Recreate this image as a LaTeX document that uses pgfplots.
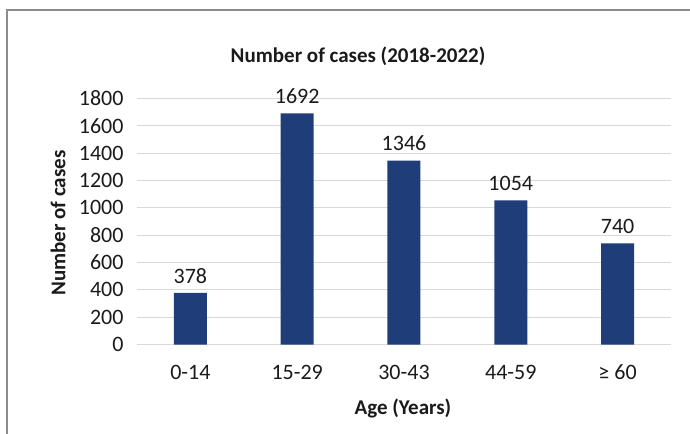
\documentclass[border=0pt]{standalone}
\usepackage{pgfplots}
\pgfplotsset{compat=1.18}
\usepackage{fontspec}
\setmainfont{Carlito}
\definecolor{barblue}{HTML}{1F3E79}
\definecolor{gridgray}{HTML}{D9D9D9}
\definecolor{framegray}{HTML}{8C8C8C}
\definecolor{txt}{HTML}{1A1A1A}
\begin{document}
\begin{tikzpicture}
\useasboundingbox (-137bp,-89.5bp) rectangle (553bp,344.5bp);
\draw[framegray, line width=1.3bp] (-130bp,-150bp) rectangle (620bp,334.5bp);
\begin{axis}[
  at={(0,0)}, anchor=south west,
  scale only axis, width=534bp, height=246bp,
  ymin=0, ymax=1800, ytick={0,200,...,1800},
  xmin=-0.5, xmax=4.5, xtick=data,
  xticklabels={0-14,15-29,30-43,44-59,{≥ 60}},
  axis line style={draw=none},
  major tick style={draw=none},
  ymajorgrids, grid style={gridgray, line width=1bp},
  /pgf/number format/assume math mode=true,
  /pgf/number format/1000 sep={},
  ticklabel style={font=\fontsize{22bp}{26bp}\selectfont, text=txt},
  yticklabel style={xshift=-10bp},
  xticklabel style={yshift=-17bp},
  title={\textbf{Number of cases (2018-2022)}},
  title style={at={(axis description cs:0.414,1.148)}, anchor=center, font=\fontsize{21bp}{25bp}\selectfont, text=txt},
  xlabel={\textbf{Age (Years)}},
  xlabel style={at={(axis description cs:0.498,-0.259)}, anchor=center, font=\fontsize{21bp}{25bp}\selectfont, text=txt},
  ylabel={\textbf{Number of cases}},
  ylabel style={at={(axis description cs:-0.148,0.494)}, anchor=center, rotate=0, font=\fontsize{21bp}{25bp}\selectfont, text=txt},
  nodes near coords,
  nodes near coords style={font=\fontsize{22bp}{26bp}\selectfont, text=txt, yshift=6bp},
  point meta=explicit symbolic,
]
\addplot[ybar, bar width=33bp, fill=barblue, draw=none] coordinates {
  (0,378) [378]
  (1,1692) [1692]
  (2,1346) [1346]
  (3,1054) [1054]
  (4,740) [740]
};
\end{axis}
\end{tikzpicture}
\end{document}
